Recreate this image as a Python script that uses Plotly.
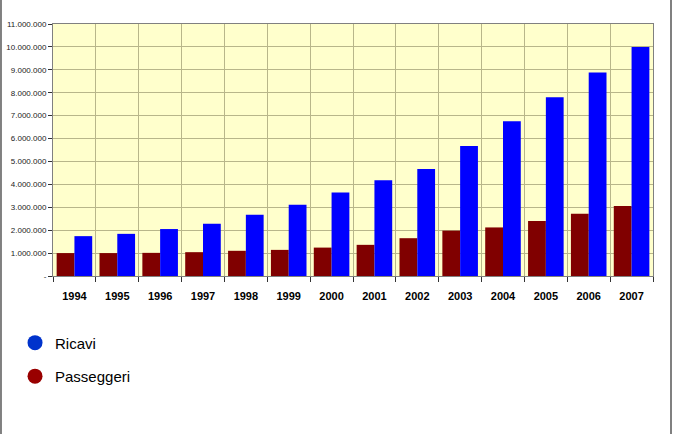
import plotly.graph_objects as go

years = ["1994", "1995", "1996", "1997", "1998", "1999", "2000",
         "2001", "2002", "2003", "2004", "2005", "2006", "2007"]
passeggeri = [1000000, 1000000, 1010000, 1040000, 1100000, 1140000, 1240000,
              1360000, 1650000, 1980000, 2120000, 2400000, 2720000, 3060000]
ricavi = [1740000, 1840000, 2050000, 2280000, 2670000, 3110000, 3650000,
          4180000, 4670000, 5680000, 6750000, 7800000, 8880000, 10000000]
y_tickvals = [i * 1000000 for i in range(12)]
y_ticktext = ["-", "1.000.000", "2.000.000", "3.000.000", "4.000.000", "5.000.000",
              "6.000.000", "7.000.000", "8.000.000", "9.000.000", "10.000.000", "11.000.000"]

RED = "#800000"
BLUE = "#0000FF"
SANS = "Liberation Sans, Arial, sans-serif"

fig = go.Figure()
fig.add_trace(go.Bar(x=years, y=passeggeri, name="Passeggeri", marker_color=RED,
                     marker_line_width=0, showlegend=False))
fig.add_trace(go.Bar(x=years, y=ricavi, name="Ricavi", marker_color=BLUE,
                     marker_line_width=0, showlegend=False))

# legend entries (circles)
fig.add_trace(go.Scatter(x=[None], y=[None], mode="markers", name="Ricavi",
                         marker=dict(symbol="circle", size=15, color="#0033CC"),
                         legendgroup="a"))
fig.add_trace(go.Scatter(x=[None], y=[None], mode="markers", name="Passeggeri",
                         marker=dict(symbol="circle", size=15, color="#990000"),
                         legendgroup="b"))

fig.update_layout(
    width=677, height=434,
    margin=dict(l=53, r=24, t=24, b=158, autoexpand=False),
    paper_bgcolor="white",
    plot_bgcolor="#FFFFCC",
    barmode="group",
    bargap=0.17,
    bargroupgap=0,
    font=dict(family=SANS, color="black"),
    legend=dict(
        x=-0.0633, y=-0.2, xanchor="left", yanchor="top",
        font=dict(size=15, family=SANS),
        bgcolor="rgba(0,0,0,0)",
        traceorder="grouped",
        tracegroupgap=11,
    ),
    xaxis=dict(
        type="category",
        automargin=False,
        tickson="boundaries",
        showgrid=True, gridcolor="#B8B68A", gridwidth=1,
        ticks="outside", ticklen=5, tickcolor="#333333",
        ticklabelstandoff=10,
        showline=True, linecolor="#808080", linewidth=1, mirror=True,
        tickfont=dict(family=SANS, size=11, color="black", weight="bold"),
    ),
    yaxis=dict(
        automargin=False,
        range=[0, 11000000],
        tickvals=y_tickvals, ticktext=y_ticktext,
        showgrid=True, gridcolor="#B8B68A", gridwidth=1,
        ticks="outside", ticklen=4, tickcolor="#333333",
        showline=True, linecolor="#808080", linewidth=1, mirror=True,
        tickfont=dict(family=SANS, size=8, color="#222222"),
        zeroline=False,
    ),
    shapes=[
        dict(type="line", xref="paper", yref="paper",
             x0=-0.0867, x1=-0.0867, y0=-0.7, y1=1.2,
             line=dict(color="#808080", width=2)),
        dict(type="line", xref="paper", yref="paper",
             x0=1.03, x1=1.03, y0=-0.7, y1=1.2,
             line=dict(color="#808080", width=2)),
    ],
)

fig.write_html("out.html")
